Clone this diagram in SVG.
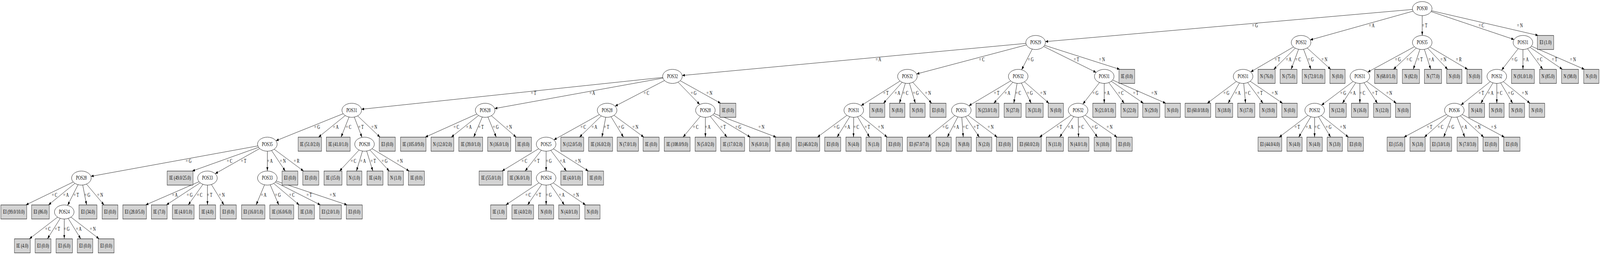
<svg xmlns="http://www.w3.org/2000/svg" width="5877" height="653" viewBox="0 0 5877 653" preserveAspectRatio="none" style="width:100vw;height:100vh;display:block">
<defs>
<marker id="ah" markerWidth="10" markerHeight="7" refX="10" refY="3.5" orient="auto" markerUnits="userSpaceOnUse"><path d="M0,0L10,3.5L0,7z" fill="#000"/></marker>
<style>
text{font-family:"Liberation Serif","Times New Roman",serif;font-size:14px;fill:#000}
.n text{text-anchor:middle}
.e path{fill:none;stroke:#000;stroke-width:1;marker-end:url(#ah)}
ellipse{fill:#fff;stroke:#000;stroke-width:1}
rect.b{fill:#d3d3d3;stroke:#000;stroke-width:1}
</style>
</defs>
<rect width="5877" height="653" fill="#fff"/>
<g id="connectors" class="e">
<path d="M5224 22L3839.7 106.6"/><path d="M5224 22L4812.5 102.3"/><path d="M5224 22L5224 90.8"/><path d="M5224 22L5561.4 101.2"/><path d="M5224 22L5650 90.8"/>
<path d="M3804 108.8L2505.7 193.3"/><path d="M3804 108.8L3366.8 189.4"/><path d="M3804 108.8L3752.5 178.7"/><path d="M3804 108.8L4026.4 185.4"/><path d="M3804 108.8L4113 177.6"/>
<path d="M4779 108.8L4593.9 184.2"/><path d="M4779 108.8L4678.7 177.6"/><path d="M4779 108.8L4742.5 177.6"/><path d="M4779 108.8L4815.5 177.6"/><path d="M4779 108.8L4888 177.6"/>
<path d="M5224 108.8L5023.7 184.7"/><path d="M5224 108.8L5118.2 177.6"/><path d="M5224 108.8L5191.1 177.6"/><path d="M5224 108.8L5255.3 177.6"/><path d="M5224 108.8L5317.5 177.6"/><path d="M5224 108.8L5391 177.6"/>
<path d="M5594 108.8L5515.4 179.8"/><path d="M5594 108.8L5594 177.6"/><path d="M5594 108.8L5666.9 177.6"/><path d="M5594 108.8L5739 177.6"/><path d="M5594 108.8L5820 177.6"/>
<path d="M2470 195.6L1327.6 279.8"/><path d="M2470 195.6L1816.9 278"/><path d="M2470 195.6L2259.2 271.9"/><path d="M2470 195.6L2570.4 267.6"/><path d="M2470 195.6L2647 264.4"/>
<path d="M3333 195.6L3163 270.5"/><path d="M3333 195.6L3245 264.4"/><path d="M3333 195.6L3303.7 264.4"/><path d="M3333 195.6L3362.3 264.4"/><path d="M3333 195.6L3422.2 264.4"/>
<path d="M3740 195.6L3558.7 270.9"/><path d="M3740 195.6L3650.4 264.4"/><path d="M3740 195.6L3723.8 264.4"/><path d="M3740 195.6L3787.6 264.4"/><path d="M3740 195.6L3853 264.4"/>
<path d="M4056 195.6L3977.4 266.6"/><path d="M4056 195.6L4056 264.4"/><path d="M4056 195.6L4129.3 264.4"/><path d="M4056 195.6L4200 264.4"/><path d="M4056 195.6L4282 264.4"/>
<path d="M4566 195.6L4434.4 264.4"/><path d="M4566 195.6L4510.9 264.4"/><path d="M4566 195.6L4575.1 264.4"/><path d="M4566 195.6L4639.3 264.4"/><path d="M4566 195.6L4711 264.4"/>
<path d="M4995 195.6L4853.9 269.4"/><path d="M4995 195.6L4930.8 264.4"/><path d="M4995 195.6L4995 264.4"/><path d="M4995 195.6L5059.6 264.4"/><path d="M4995 195.6L5129 264.4"/>
<path d="M5498 195.6L5366.1 269"/><path d="M5498 195.6L5439.3 264.4"/><path d="M5498 195.6L5498 264.4"/><path d="M5498 195.6L5556.3 264.4"/><path d="M5498 195.6L5620 264.4"/>
<path d="M1292 282.4L1013.4 360.4"/><path d="M1292 282.4L1170 351.2"/><path d="M1292 282.4L1252.8 351.2"/><path d="M1292 282.4L1329.6 351.8"/><path d="M1292 282.4L1396 351.2"/>
<path d="M1782 282.4L1562 351.2"/><path d="M1782 282.4L1657.6 351.2"/><path d="M1782 282.4L1740 351.2"/><path d="M1782 282.4L1822.8 351.2"/><path d="M1782 282.4L1896 351.2"/>
<path d="M2230 282.4L2034.4 358.2"/><path d="M2230 282.4L2128.5 351.2"/><path d="M2230 282.4L2211 351.2"/><path d="M2230 282.4L2290.2 351.2"/><path d="M2230 282.4L2365 351.2"/>
<path d="M2591 282.4L2509 351.2"/><path d="M2591 282.4L2591 351.2"/><path d="M2591 282.4L2670.3 351.2"/><path d="M2591 282.4L2756 351.2"/><path d="M2591 282.4L2851 351.2"/>
<path d="M3136 282.4L3002.4 351.2"/><path d="M3136 282.4L3074.6 351.2"/><path d="M3136 282.4L3135 351.2"/><path d="M3136 282.4L3193.9 351.2"/><path d="M3136 282.4L3259 351.2"/>
<path d="M3531 282.4L3408.1 351.2"/><path d="M3531 282.4L3479.5 351.2"/><path d="M3531 282.4L3538.1 351.2"/><path d="M3531 282.4L3597.2 351.2"/><path d="M3531 282.4L3663 351.2"/>
<path d="M3960 282.4L3818.1 351.2"/><path d="M3960 282.4L3892.2 351.2"/><path d="M3960 282.4L3961.6 351.2"/><path d="M3960 282.4L4031.3 351.2"/><path d="M3960 282.4L4103 351.2"/>
<path d="M4829 282.4L4698.6 351.2"/><path d="M4829 282.4L4770.3 351.2"/><path d="M4829 282.4L4828.6 351.2"/><path d="M4829 282.4L4887.7 351.2"/><path d="M4829 282.4L4953 351.2"/>
<path d="M5342 282.4L5157 351.2"/><path d="M5342 282.4L5232 351.2"/><path d="M5342 282.4L5302.8 351.2"/><path d="M5342 282.4L5380.4 351.2"/><path d="M5342 282.4L5450 351.2"/><path d="M5342 282.4L5526 351.2"/>
<path d="M982 369.2L333.9 451.6"/><path d="M982 369.2L706 438"/><path d="M982 369.2L790.3 444.8"/><path d="M982 369.2L982 438"/><path d="M982 369.2L1047.8 438"/><path d="M982 369.2L1115 438"/>
<path d="M1339 369.2L1247.1 438"/><path d="M1339 369.2L1309.3 438"/><path d="M1339 369.2L1369.5 438"/><path d="M1339 369.2L1429.8 438"/><path d="M1339 369.2L1503 438"/>
<path d="M2006 369.2L1844 438"/><path d="M2006 369.2L1928.7 438"/><path d="M2006 369.2L2006 438"/><path d="M2006 369.2L2080.5 438"/><path d="M2006 369.2L2161 438"/>
<path d="M299 456L95 524.8"/><path d="M299 456L178 524.8"/><path d="M299 456L248.3 525.9"/><path d="M299 456L318 524.8"/><path d="M299 456L382.2 524.8"/>
<path d="M762 456L535 524.8"/><path d="M762 456L611 524.8"/><path d="M762 456L691.5 524.8"/><path d="M762 456L762 524.8"/><path d="M762 456L822.6 524.8"/>
<path d="M982 456L940.8 524.8"/><path d="M982 456L1024 524.8"/><path d="M982 456L1099 524.8"/><path d="M982 456L1177 524.8"/><path d="M982 456L1275 524.8"/>
<path d="M2006 456L1858 524.8"/><path d="M2006 456L1937.8 524.8"/><path d="M2006 456L2006 524.8"/><path d="M2006 456L2073 524.8"/><path d="M2006 456L2151 524.8"/>
<path d="M236 542.8L108 611.6"/><path d="M236 542.8L174.2 611.6"/><path d="M236 542.8L236 611.6"/><path d="M236 542.8L296.6 611.6"/><path d="M236 542.8L364 611.6"/>
<g id="edge-labels">
<text x="4599" y="70">= G</text><text x="5028" y="70">= A</text><text x="5223" y="70">= T</text><text x="5431" y="70">= C</text><text x="5572" y="70">= N</text>
<text x="3216" y="156.7">= A</text><text x="3596" y="156.7">= C</text><text x="3775" y="156.7">= G</text><text x="3944" y="156.7">= T</text><text x="4037" y="156.7">= N</text>
<text x="4682" y="156.7">= T</text><text x="4723" y="156.7">= A</text><text x="4758" y="156.7">= C</text><text x="4804" y="156.7">= G</text><text x="4854" y="156.7">= N</text>
<text x="5124" y="156.7">= G</text><text x="5166" y="156.7">= C</text><text x="5206" y="156.7">= T</text><text x="5247" y="156.7">= A</text><text x="5291" y="156.7">= N</text><text x="5348" y="156.7">= R</text>
<text x="5552" y="156.7">= G</text><text x="5594" y="156.7">= A</text><text x="5645" y="156.7">= C</text><text x="5700" y="156.7">= T</text><text x="5767" y="156.7">= N</text>
<text x="1950" y="243.5">= T</text><text x="2165" y="243.5">= A</text><text x="2364" y="243.5">= C</text><text x="2537" y="243.5">= G</text><text x="2595" y="243.5">= N</text>
<text x="3244" y="243.5">= T</text><text x="3286" y="243.5">= A</text><text x="3316" y="243.5">= C</text><text x="3353" y="243.5">= G</text><text x="3398" y="243.5">= N</text>
<text x="3651" y="243.5">= T</text><text x="3690" y="243.5">= A</text><text x="3730" y="243.5">= C</text><text x="3772" y="243.5">= G</text><text x="3821" y="243.5">= N</text>
<text x="4013" y="243.5">= G</text><text x="4055" y="243.5">= A</text><text x="4107" y="243.5">= C</text><text x="4162" y="243.5">= T</text><text x="4229" y="243.5">= N</text>
<text x="4494" y="243.5">= G</text><text x="4536" y="243.5">= A</text><text x="4573" y="243.5">= C</text><text x="4618" y="243.5">= T</text><text x="4671" y="243.5">= N</text>
<text x="4923" y="243.5">= G</text><text x="4959" y="243.5">= A</text><text x="4994" y="243.5">= C</text><text x="5040" y="243.5">= T</text><text x="5092" y="243.5">= N</text>
<text x="5431" y="243.5">= T</text><text x="5465" y="243.5">= A</text><text x="5498" y="243.5">= C</text><text x="5539" y="243.5">= G</text><text x="5590" y="243.5">= N</text>
<text x="1154" y="330.3">= G</text><text x="1223" y="330.3">= A</text><text x="1270" y="330.3">= C</text><text x="1316" y="330.3">= T</text><text x="1364" y="330.3">= N</text>
<text x="1666" y="330.3">= C</text><text x="1712" y="330.3">= A</text><text x="1757" y="330.3">= T</text><text x="1810" y="330.3">= G</text><text x="1859" y="330.3">= N</text>
<text x="2132" y="330.3">= C</text><text x="2173" y="330.3">= A</text><text x="2218" y="330.3">= T</text><text x="2271" y="330.3">= G</text><text x="2323" y="330.3">= N</text>
<text x="2545" y="330.3">= C</text><text x="2589" y="330.3">= A</text><text x="2646" y="330.3">= T</text><text x="2701" y="330.3">= G</text><text x="2786" y="330.3">= N</text>
<text x="3062" y="330.3">= G</text><text x="3102" y="330.3">= A</text><text x="3135" y="330.3">= C</text><text x="3176" y="330.3">= T</text><text x="3225" y="330.3">= N</text>
<text x="3462" y="330.3">= G</text><text x="3502" y="330.3">= A</text><text x="3536" y="330.3">= C</text><text x="3576" y="330.3">= T</text><text x="3628" y="330.3">= N</text>
<text x="3881" y="330.3">= T</text><text x="3922" y="330.3">= A</text><text x="3961" y="330.3">= C</text><text x="4010" y="330.3">= G</text><text x="4065" y="330.3">= N</text>
<text x="4755" y="330.3">= T</text><text x="4796" y="330.3">= A</text><text x="4828" y="330.3">= C</text><text x="4869" y="330.3">= G</text><text x="4922" y="330.3">= N</text>
<text x="5241" y="330.3">= T</text><text x="5281" y="330.3">= C</text><text x="5320" y="330.3">= G</text><text x="5368" y="330.3">= A</text><text x="5417" y="330.3">= N</text><text x="5477" y="330.3">= S</text>
<text x="682" y="417.1">= G</text><text x="833" y="417.1">= C</text><text x="885" y="417.1">= T</text><text x="981" y="417.1">= A</text><text x="1028" y="417.1">= N</text><text x="1079" y="417.1">= R</text>
<text x="1288" y="417.1">= C</text><text x="1323" y="417.1">= A</text><text x="1361" y="417.1">= T</text><text x="1402" y="417.1">= G</text><text x="1458" y="417.1">= N</text>
<text x="1916" y="417.1">= C</text><text x="1962" y="417.1">= T</text><text x="2005" y="417.1">= G</text><text x="2056" y="417.1">= A</text><text x="2112" y="417.1">= N</text>
<text x="190" y="503.9">= C</text><text x="232" y="503.9">= A</text><text x="270" y="503.9">= T</text><text x="310" y="503.9">= G</text><text x="357" y="503.9">= N</text>
<text x="632" y="503.9">= A</text><text x="686" y="503.9">= G</text><text x="723" y="503.9">= C</text><text x="760" y="503.9">= T</text><text x="804" y="503.9">= N</text>
<text x="958" y="503.9">= A</text><text x="1010" y="503.9">= G</text><text x="1062" y="503.9">= C</text><text x="1126" y="503.9">= T</text><text x="1211" y="503.9">= N</text>
<text x="1930" y="503.9">= C</text><text x="1968" y="503.9">= T</text><text x="2005" y="503.9">= G</text><text x="2053" y="503.9">= A</text><text x="2105" y="503.9">= N</text>
<text x="166" y="590.7">= C</text><text x="201" y="590.7">= T</text><text x="234" y="590.7">= G</text><text x="279" y="590.7">= A</text><text x="330" y="590.7">= N</text>
</g>
</g>
<g id="nodes" class="n">
<g id="n0"><ellipse cx="5224" cy="22" rx="36" ry="18"/><text x="5224" y="26.5">POS30</text></g>
<g id="n1"><ellipse cx="3804" cy="108.8" rx="36" ry="18"/><text x="3804" y="113.3">POS29</text></g>
<g id="n2"><ellipse cx="4779" cy="108.8" rx="36" ry="18"/><text x="4779" y="113.3">POS32</text></g>
<g id="n3"><ellipse cx="5224" cy="108.8" rx="36" ry="18"/><text x="5224" y="113.3">POS35</text></g>
<g id="n4"><ellipse cx="5594" cy="108.8" rx="36" ry="18"/><text x="5594" y="113.3">POS31</text></g>
<g id="n5"><rect class="b" x="5647" y="90.8" width="60" height="36"/><text x="5677" y="113.3">EI (1.0)</text></g>
<g id="n6"><ellipse cx="2470" cy="195.6" rx="36" ry="18"/><text x="2470" y="200.1">POS32</text></g>
<g id="n7"><ellipse cx="3333" cy="195.6" rx="36" ry="18"/><text x="3333" y="200.1">POS32</text></g>
<g id="n8"><ellipse cx="3740" cy="195.6" rx="36" ry="18"/><text x="3740" y="200.1">POS32</text></g>
<g id="n9"><ellipse cx="4056" cy="195.6" rx="36" ry="18"/><text x="4056" y="200.1">POS31</text></g>
<g id="n10"><rect class="b" x="4110" y="177.6" width="58" height="36"/><text x="4139" y="200.1">IE (0.0)</text></g>
<g id="n11"><ellipse cx="4566" cy="195.6" rx="36" ry="18"/><text x="4566" y="200.1">POS31</text></g>
<g id="n12"><rect class="b" x="4621" y="177.6" width="63" height="36"/><text x="4652.5" y="200.1">N (76.0)</text></g>
<g id="n13"><rect class="b" x="4702" y="177.6" width="62" height="36"/><text x="4733" y="200.1">N (75.0)</text></g>
<g id="n14"><rect class="b" x="4783" y="177.6" width="84" height="36"/><text x="4825" y="200.1">N (72.0/1.0)</text></g>
<g id="n15"><rect class="b" x="4885" y="177.6" width="56" height="36"/><text x="4913" y="200.1">N (0.0)</text></g>
<g id="n16"><ellipse cx="4995" cy="195.6" rx="36" ry="18"/><text x="4995" y="200.1">POS31</text></g>
<g id="n17"><rect class="b" x="5049" y="177.6" width="83" height="36"/><text x="5090.5" y="200.1">N (68.0/1.0)</text></g>
<g id="n18"><rect class="b" x="5151" y="177.6" width="63" height="36"/><text x="5182.5" y="200.1">N (82.0)</text></g>
<g id="n19"><rect class="b" x="5232" y="177.6" width="63" height="36"/><text x="5263.5" y="200.1">N (77.0)</text></g>
<g id="n20"><rect class="b" x="5314" y="177.6" width="56" height="36"/><text x="5342" y="200.1">N (0.0)</text></g>
<g id="n21"><rect class="b" x="5388" y="177.6" width="55" height="36"/><text x="5415.5" y="200.1">N (0.0)</text></g>
<g id="n22"><ellipse cx="5498" cy="195.6" rx="36" ry="18"/><text x="5498" y="200.1">POS32</text></g>
<g id="n23"><rect class="b" x="5552" y="177.6" width="84" height="36"/><text x="5594" y="200.1">N (91.0/1.0)</text></g>
<g id="n24"><rect class="b" x="5655" y="177.6" width="62" height="36"/><text x="5686" y="200.1">N (85.0)</text></g>
<g id="n25"><rect class="b" x="5736" y="177.6" width="62" height="36"/><text x="5767" y="200.1">N (98.0)</text></g>
<g id="n26"><rect class="b" x="5817" y="177.6" width="56" height="36"/><text x="5845" y="200.1">N (0.0)</text></g>
<g id="n27"><ellipse cx="1292" cy="282.4" rx="36" ry="18"/><text x="1292" y="286.9">POS31</text></g>
<g id="n28"><ellipse cx="1782" cy="282.4" rx="36" ry="18"/><text x="1782" y="286.9">POS28</text></g>
<g id="n29"><ellipse cx="2230" cy="282.4" rx="36" ry="18"/><text x="2230" y="286.9">POS28</text></g>
<g id="n30"><ellipse cx="2591" cy="282.4" rx="36" ry="18"/><text x="2591" y="286.9">POS28</text></g>
<g id="n31"><rect class="b" x="2644" y="264.4" width="59" height="36"/><text x="2673.5" y="286.9">IE (0.0)</text></g>
<g id="n32"><ellipse cx="3136" cy="282.4" rx="36" ry="18"/><text x="3136" y="286.9">POS31</text></g>
<g id="n33"><rect class="b" x="3194" y="264.4" width="56" height="36"/><text x="3222" y="286.9">N (8.0)</text></g>
<g id="n34"><rect class="b" x="3268" y="264.4" width="56" height="36"/><text x="3296" y="286.9">N (8.0)</text></g>
<g id="n35"><rect class="b" x="3342" y="264.4" width="56" height="36"/><text x="3370" y="286.9">N (9.0)</text></g>
<g id="n36"><rect class="b" x="3416" y="264.4" width="59" height="36"/><text x="3445.5" y="286.9">EI (0.0)</text></g>
<g id="n37"><ellipse cx="3531" cy="282.4" rx="36" ry="18"/><text x="3531" y="286.9">POS31</text></g>
<g id="n38"><rect class="b" x="3585" y="264.4" width="84" height="36"/><text x="3627" y="286.9">N (23.0/1.0)</text></g>
<g id="n39"><rect class="b" x="3688" y="264.4" width="63" height="36"/><text x="3719.5" y="286.9">N (27.0)</text></g>
<g id="n40"><rect class="b" x="3768" y="264.4" width="64" height="36"/><text x="3800" y="286.9">N (31.0)</text></g>
<g id="n41"><rect class="b" x="3850" y="264.4" width="56" height="36"/><text x="3878" y="286.9">N (0.0)</text></g>
<g id="n42"><ellipse cx="3960" cy="282.4" rx="36" ry="18"/><text x="3960" y="286.9">POS32</text></g>
<g id="n43"><rect class="b" x="4014" y="264.4" width="84" height="36"/><text x="4056" y="286.9">N (21.0/1.0)</text></g>
<g id="n44"><rect class="b" x="4117" y="264.4" width="63" height="36"/><text x="4148.5" y="286.9">N (22.0)</text></g>
<g id="n45"><rect class="b" x="4197" y="264.4" width="63" height="36"/><text x="4228.5" y="286.9">N (29.0)</text></g>
<g id="n46"><rect class="b" x="4279" y="264.4" width="57" height="36"/><text x="4307.5" y="286.9">N (0.0)</text></g>
<g id="n47"><rect class="b" x="4353" y="264.4" width="94" height="36"/><text x="4400" y="286.9">EI (60.0/18.0)</text></g>
<g id="n48"><rect class="b" x="4465" y="264.4" width="63" height="36"/><text x="4496.5" y="286.9">N (18.0)</text></g>
<g id="n49"><rect class="b" x="4546" y="264.4" width="63" height="36"/><text x="4577.5" y="286.9">N (17.0)</text></g>
<g id="n50"><rect class="b" x="4627" y="264.4" width="63" height="36"/><text x="4658.5" y="286.9">N (19.0)</text></g>
<g id="n51"><rect class="b" x="4708" y="264.4" width="57" height="36"/><text x="4736.5" y="286.9">N (0.0)</text></g>
<g id="n52"><ellipse cx="4829" cy="282.4" rx="36" ry="18"/><text x="4829" y="286.9">POS32</text></g>
<g id="n53"><rect class="b" x="4883" y="264.4" width="62" height="36"/><text x="4914" y="286.9">N (12.0)</text></g>
<g id="n54"><rect class="b" x="4964" y="264.4" width="62" height="36"/><text x="4995" y="286.9">N (16.0)</text></g>
<g id="n55"><rect class="b" x="5045" y="264.4" width="63" height="36"/><text x="5076.5" y="286.9">N (12.0)</text></g>
<g id="n56"><rect class="b" x="5126" y="264.4" width="55" height="36"/><text x="5153.5" y="286.9">N (0.0)</text></g>
<g id="n57"><ellipse cx="5342" cy="282.4" rx="36" ry="18"/><text x="5342" y="286.9">POS36</text></g>
<g id="n58"><rect class="b" x="5395" y="264.4" width="58" height="36"/><text x="5424" y="286.9">N (4.0)</text></g>
<g id="n59"><rect class="b" x="5470" y="264.4" width="55" height="36"/><text x="5497.5" y="286.9">N (9.0)</text></g>
<g id="n60"><rect class="b" x="5543" y="264.4" width="57" height="36"/><text x="5571.5" y="286.9">N (9.0)</text></g>
<g id="n61"><rect class="b" x="5617" y="264.4" width="57" height="36"/><text x="5645.5" y="286.9">N (0.0)</text></g>
<g id="n62"><ellipse cx="982" cy="369.2" rx="36" ry="18"/><text x="982" y="373.7">POS35</text></g>
<g id="n63"><rect class="b" x="1095" y="351.2" width="86" height="36"/><text x="1138" y="373.7">IE (51.0/2.0)</text></g>
<g id="n64"><rect class="b" x="1199" y="351.2" width="87" height="36"/><text x="1242.5" y="373.7">IE (41.0/1.0)</text></g>
<g id="n65"><ellipse cx="1339" cy="369.2" rx="36" ry="18"/><text x="1339" y="373.7">POS28</text></g>
<g id="n66"><rect class="b" x="1393" y="351.2" width="59" height="36"/><text x="1422.5" y="373.7">EI (0.0)</text></g>
<g id="n67"><rect class="b" x="1471" y="351.2" width="94" height="36"/><text x="1518" y="373.7">IE (105.0/9.0)</text></g>
<g id="n68"><rect class="b" x="1583" y="351.2" width="84" height="36"/><text x="1625" y="373.7">N (12.0/2.0)</text></g>
<g id="n69"><rect class="b" x="1685" y="351.2" width="88" height="36"/><text x="1729" y="373.7">IE (39.0/1.0)</text></g>
<g id="n70"><rect class="b" x="1791" y="351.2" width="85" height="36"/><text x="1833.5" y="373.7">N (16.0/1.0)</text></g>
<g id="n71"><rect class="b" x="1893" y="351.2" width="59" height="36"/><text x="1922.5" y="373.7">IE (0.0)</text></g>
<g id="n72"><ellipse cx="2006" cy="369.2" rx="36" ry="18"/><text x="2006" y="373.7">POS25</text></g>
<g id="n73"><rect class="b" x="2060" y="351.2" width="84" height="36"/><text x="2102" y="373.7">N (12.0/5.0)</text></g>
<g id="n74"><rect class="b" x="2162" y="351.2" width="88" height="36"/><text x="2206" y="373.7">IE (16.0/2.0)</text></g>
<g id="n75"><rect class="b" x="2267" y="351.2" width="78" height="36"/><text x="2306" y="373.7">N (7.0/1.0)</text></g>
<g id="n76"><rect class="b" x="2362" y="351.2" width="59" height="36"/><text x="2391.5" y="373.7">IE (0.0)</text></g>
<g id="n77"><rect class="b" x="2440" y="351.2" width="95" height="36"/><text x="2487.5" y="373.7">IE (108.0/9.0)</text></g>
<g id="n78"><rect class="b" x="2553" y="351.2" width="77" height="36"/><text x="2591.5" y="373.7">N (5.0/2.0)</text></g>
<g id="n79"><rect class="b" x="2647" y="351.2" width="88" height="36"/><text x="2691" y="373.7">IE (17.0/2.0)</text></g>
<g id="n80"><rect class="b" x="2753" y="351.2" width="76" height="36"/><text x="2791" y="373.7">N (6.0/1.0)</text></g>
<g id="n81"><rect class="b" x="2848" y="351.2" width="59" height="36"/><text x="2877.5" y="373.7">IE (0.0)</text></g>
<g id="n82"><rect class="b" x="2924" y="351.2" width="87" height="36"/><text x="2967.5" y="373.7">EI (46.0/2.0)</text></g>
<g id="n83"><rect class="b" x="3029" y="351.2" width="59" height="36"/><text x="3058.5" y="373.7">EI (0.0)</text></g>
<g id="n84"><rect class="b" x="3107" y="351.2" width="56" height="36"/><text x="3135" y="373.7">N (4.0)</text></g>
<g id="n85"><rect class="b" x="3181" y="351.2" width="56" height="36"/><text x="3209" y="373.7">N (1.0)</text></g>
<g id="n86"><rect class="b" x="3256" y="351.2" width="59" height="36"/><text x="3285.5" y="373.7">EI (0.0)</text></g>
<g id="n87"><rect class="b" x="3332" y="351.2" width="88" height="36"/><text x="3376" y="373.7">EI (67.0/7.0)</text></g>
<g id="n88"><rect class="b" x="3438" y="351.2" width="56" height="36"/><text x="3466" y="373.7">N (2.0)</text></g>
<g id="n89"><rect class="b" x="3512" y="351.2" width="56" height="36"/><text x="3540" y="373.7">N (8.0)</text></g>
<g id="n90"><rect class="b" x="3586" y="351.2" width="57" height="36"/><text x="3614.5" y="373.7">N (2.0)</text></g>
<g id="n91"><rect class="b" x="3660" y="351.2" width="60" height="36"/><text x="3690" y="373.7">EI (0.0)</text></g>
<g id="n92"><rect class="b" x="3737" y="351.2" width="88" height="36"/><text x="3781" y="373.7">EI (60.0/2.0)</text></g>
<g id="n93"><rect class="b" x="3843" y="351.2" width="63" height="36"/><text x="3874.5" y="373.7">N (11.0)</text></g>
<g id="n94"><rect class="b" x="3924" y="351.2" width="76" height="36"/><text x="3962" y="373.7">N (4.0/1.0)</text></g>
<g id="n95"><rect class="b" x="4019" y="351.2" width="62" height="36"/><text x="4050" y="373.7">N (10.0)</text></g>
<g id="n96"><rect class="b" x="4100" y="351.2" width="59" height="36"/><text x="4129.5" y="373.7">EI (0.0)</text></g>
<g id="n97"><rect class="b" x="4621" y="351.2" width="87" height="36"/><text x="4664.5" y="373.7">EI (44.0/4.0)</text></g>
<g id="n98"><rect class="b" x="4727" y="351.2" width="56" height="36"/><text x="4755" y="373.7">N (4.0)</text></g>
<g id="n99"><rect class="b" x="4800" y="351.2" width="57" height="36"/><text x="4828.5" y="373.7">N (4.0)</text></g>
<g id="n100"><rect class="b" x="4875" y="351.2" width="56" height="36"/><text x="4903" y="373.7">N (3.0)</text></g>
<g id="n101"><rect class="b" x="4950" y="351.2" width="58" height="36"/><text x="4979" y="373.7">EI (0.0)</text></g>
<g id="n102"><rect class="b" x="5095" y="351.2" width="65" height="36"/><text x="5127.5" y="373.7">EI (15.0)</text></g>
<g id="n103"><rect class="b" x="5179" y="351.2" width="56" height="36"/><text x="5207" y="373.7">N (3.0)</text></g>
<g id="n104"><rect class="b" x="5253" y="351.2" width="79" height="36"/><text x="5292.5" y="373.7">EI (3.0/1.0)</text></g>
<g id="n105"><rect class="b" x="5352" y="351.2" width="77" height="36"/><text x="5390.5" y="373.7">N (7.0/3.0)</text></g>
<g id="n106"><rect class="b" x="5447" y="351.2" width="58" height="36"/><text x="5476" y="373.7">EI (0.0)</text></g>
<g id="n107"><rect class="b" x="5523" y="351.2" width="60" height="36"/><text x="5553" y="373.7">EI (0.0)</text></g>
<g id="n108"><ellipse cx="299" cy="456" rx="36" ry="18"/><text x="299" y="460.5">POS28</text></g>
<g id="n109"><rect class="b" x="614" y="438" width="95" height="36"/><text x="661.5" y="460.5">IE (49.0/25.0)</text></g>
<g id="n110"><ellipse cx="762" cy="456" rx="36" ry="18"/><text x="762" y="460.5">POS33</text></g>
<g id="n111"><ellipse cx="982" cy="456" rx="36" ry="18"/><text x="982" y="460.5">POS33</text></g>
<g id="n112"><rect class="b" x="1036" y="438" width="58" height="36"/><text x="1065" y="460.5">EI (0.0)</text></g>
<g id="n113"><rect class="b" x="1112" y="438" width="59" height="36"/><text x="1141.5" y="460.5">EI (0.0)</text></g>
<g id="n114"><rect class="b" x="1190" y="438" width="66" height="36"/><text x="1223" y="460.5">IE (15.0)</text></g>
<g id="n115"><rect class="b" x="1274" y="438" width="55" height="36"/><text x="1301.5" y="460.5">N (1.0)</text></g>
<g id="n116"><rect class="b" x="1348" y="438" width="59" height="36"/><text x="1377.5" y="460.5">IE (4.0)</text></g>
<g id="n117"><rect class="b" x="1425" y="438" width="57" height="36"/><text x="1453.5" y="460.5">N (1.0)</text></g>
<g id="n118"><rect class="b" x="1500" y="438" width="59" height="36"/><text x="1529.5" y="460.5">IE (0.0)</text></g>
<g id="n119"><rect class="b" x="1760" y="438" width="87" height="36"/><text x="1803.5" y="460.5">IE (55.0/1.0)</text></g>
<g id="n120"><rect class="b" x="1865" y="438" width="87" height="36"/><text x="1908.5" y="460.5">IE (36.0/1.0)</text></g>
<g id="n121"><ellipse cx="2006" cy="456" rx="36" ry="18"/><text x="2006" y="460.5">POS24</text></g>
<g id="n122"><rect class="b" x="2060" y="438" width="80" height="36"/><text x="2100" y="460.5">IE (4.0/1.0)</text></g>
<g id="n123"><rect class="b" x="2158" y="438" width="59" height="36"/><text x="2187.5" y="460.5">IE (0.0)</text></g>
<g id="n124"><rect class="b" x="3" y="524.8" width="95" height="36"/><text x="50.5" y="547.3">EI (99.0/10.0)</text></g>
<g id="n125"><rect class="b" x="116" y="524.8" width="65" height="36"/><text x="148.5" y="547.3">EI (86.0)</text></g>
<g id="n126"><ellipse cx="236" cy="542.8" rx="36" ry="18"/><text x="236" y="547.3">POS24</text></g>
<g id="n127"><rect class="b" x="290" y="524.8" width="66" height="36"/><text x="323" y="547.3">EI (34.0)</text></g>
<g id="n128"><rect class="b" x="375" y="524.8" width="58" height="36"/><text x="404" y="547.3">EI (0.0)</text></g>
<g id="n129"><rect class="b" x="451" y="524.8" width="87" height="36"/><text x="494.5" y="547.3">EI (28.0/5.0)</text></g>
<g id="n130"><rect class="b" x="556" y="524.8" width="58" height="36"/><text x="585" y="547.3">IE (7.0)</text></g>
<g id="n131"><rect class="b" x="633" y="524.8" width="80" height="36"/><text x="673" y="547.3">IE (4.0/1.0)</text></g>
<g id="n132"><rect class="b" x="732" y="524.8" width="60" height="36"/><text x="762" y="547.3">IE (4.0)</text></g>
<g id="n133"><rect class="b" x="809" y="524.8" width="59" height="36"/><text x="838.5" y="547.3">EI (0.0)</text></g>
<g id="n134"><rect class="b" x="887" y="524.8" width="86" height="36"/><text x="930" y="547.3">EI (16.0/1.0)</text></g>
<g id="n135"><rect class="b" x="991" y="524.8" width="88" height="36"/><text x="1035" y="547.3">IE (16.0/6.0)</text></g>
<g id="n136"><rect class="b" x="1096" y="524.8" width="59" height="36"/><text x="1125.5" y="547.3">IE (3.0)</text></g>
<g id="n137"><rect class="b" x="1174" y="524.8" width="80" height="36"/><text x="1214" y="547.3">EI (2.0/1.0)</text></g>
<g id="n138"><rect class="b" x="1272" y="524.8" width="59" height="36"/><text x="1301.5" y="547.3">EI (0.0)</text></g>
<g id="n139"><rect class="b" x="1802" y="524.8" width="59" height="36"/><text x="1831.5" y="547.3">IE (1.0)</text></g>
<g id="n140"><rect class="b" x="1880" y="524.8" width="80" height="36"/><text x="1920" y="547.3">IE (4.0/2.0)</text></g>
<g id="n141"><rect class="b" x="1978" y="524.8" width="56" height="36"/><text x="2006" y="547.3">N (0.0)</text></g>
<g id="n142"><rect class="b" x="2052" y="524.8" width="77" height="36"/><text x="2090.5" y="547.3">N (4.0/1.0)</text></g>
<g id="n143"><rect class="b" x="2148" y="524.8" width="56" height="36"/><text x="2176" y="547.3">N (0.0)</text></g>
<g id="n144"><rect class="b" x="53" y="611.6" width="58" height="36"/><text x="82" y="634.1">IE (4.0)</text></g>
<g id="n145"><rect class="b" x="129" y="611.6" width="58" height="36"/><text x="158" y="634.1">EI (0.0)</text></g>
<g id="n146"><rect class="b" x="206" y="611.6" width="60" height="36"/><text x="236" y="634.1">EI (6.0)</text></g>
<g id="n147"><rect class="b" x="284" y="611.6" width="57" height="36"/><text x="312.5" y="634.1">EI (0.0)</text></g>
<g id="n148"><rect class="b" x="361" y="611.6" width="58" height="36"/><text x="390" y="634.1">EI (0.0)</text></g>
</g>
</svg>
